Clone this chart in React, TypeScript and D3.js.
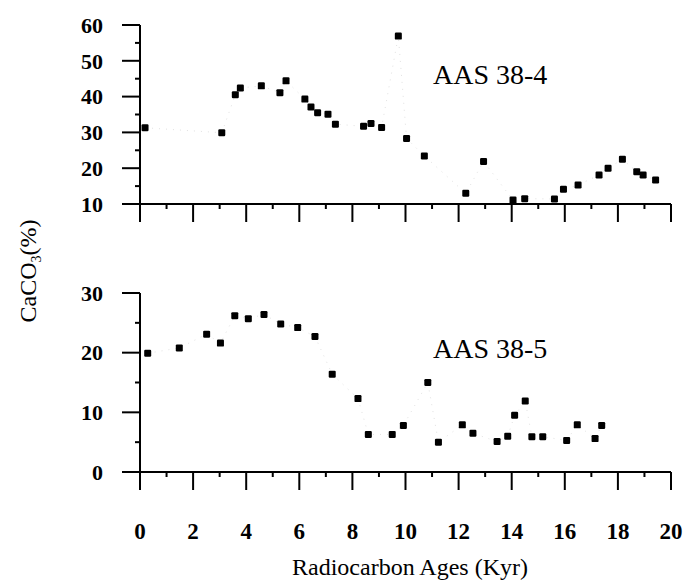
import React from "react";
import * as d3 from "d3";

// AAS 38-4 (upper panel)
const ages384 = [0.19, 3.08, 3.59, 3.78, 4.57, 5.27, 5.5, 6.21, 6.44, 6.69, 7.08, 7.36, 8.42, 8.7, 9.1, 9.73, 10.04, 10.71, 12.27, 12.94, 14.05, 14.49, 15.61, 15.95, 16.5, 17.29, 17.63, 18.17, 18.71, 18.95, 19.42];
const caco3_384 = [31.3, 29.9, 40.5, 42.4, 43.0, 41.1, 44.4, 39.3, 37.1, 35.5, 35.1, 32.3, 31.7, 32.5, 31.4, 56.9, 28.3, 23.4, 13.0, 21.9, 11.1, 11.5, 11.4, 14.1, 15.3, 18.1, 20.0, 22.5, 19.0, 18.1, 16.7];

// AAS 38-5 (lower panel)
const ages385 = [0.29, 1.48, 2.51, 3.03, 3.57, 4.08, 4.67, 5.3, 5.94, 6.59, 7.24, 8.21, 8.6, 9.5, 9.92, 10.84, 11.24, 12.14, 12.54, 13.45, 13.85, 14.11, 14.51, 14.76, 15.17, 16.07, 16.47, 17.14, 17.39];
const caco3_385 = [19.9, 20.8, 23.1, 21.6, 26.2, 25.7, 26.4, 24.8, 24.2, 22.7, 16.4, 12.3, 6.3, 6.3, 7.8, 15.0, 5.0, 7.9, 6.5, 5.1, 6.0, 9.5, 11.9, 5.9, 5.9, 5.3, 7.9, 5.6, 7.8];

const xTicks = [0, 2, 4, 6, 8, 10, 12, 14, 16, 18, 20];
const xMinor = [1, 3, 5, 7, 9, 11, 13, 15, 17, 19];
const yTicksTop = [10, 20, 30, 40, 50, 60];
const yMinorTop = [15, 25, 35, 45, 55];
const yTicksBot = [0, 10, 20, 30];
const yMinorBot = [5, 15, 25];

const panelLabels = ["AAS 38-4", "AAS 38-5"];
const xTitle = "Radiocarbon Ages (Kyr)";

const FONT = "Liberation Serif, DejaVu Serif, Noto Serif, Times, serif";

export default function App() {
  const x = d3.scaleLinear().domain([0, 20]).range([140, 671]);
  const yTop = d3.scaleLinear().domain([10, 60]).range([204, 25]);
  const yBot = d3.scaleLinear().domain([0, 30]).range([472, 293]);

  const MAJ = 18;
  const MIN = 5;
  const SW = 2;

  const panel = (
    ages: number[],
    vals: number[],
    y: d3.ScaleLinear<number, number>,
    yTicks: number[],
    yMinor: number[],
    label: string,
    labelY: number,
    showXLabels: boolean
  ) => {
    const yBase = y(y.domain()[0]);
    const yTopPx = y(y.domain()[1]);
    const pts: [number, number][] = ages.map((a, i) => [a, vals[i]]);
    const line = d3
      .line<[number, number]>()
      .x((d) => x(d[0]))
      .y((d) => y(d[1]));
    return (
      <g>
        <path d={line(pts) || ""} fill="none" stroke="#e2e2e2" strokeWidth={1} strokeDasharray="1 6" />
        <line x1={x(0)} x2={x(0)} y1={yTopPx} y2={yBase + MAJ} stroke="#000" strokeWidth={SW} />
        <line x1={x(0) - MAJ} x2={x(20)} y1={yBase} y2={yBase} stroke="#000" strokeWidth={SW} />
        {yTicks.map((t) => (
          <g key={"yt" + t}>
            <line x1={x(0) - MAJ} x2={x(0)} y1={y(t)} y2={y(t)} stroke="#000" strokeWidth={SW} />
            <text
              x={103}
              y={y(t)}
              dy="0.35em"
              textAnchor="end"
              style={{ fontFamily: FONT, fontWeight: "bold", fontSize: 22 }}
              fill="#000"
            >
              {t}
            </text>
          </g>
        ))}
        {yMinor.map((t) => (
          <line key={"ym" + t} x1={x(0) - MIN} x2={x(0)} y1={y(t)} y2={y(t)} stroke="#000" strokeWidth={SW} />
        ))}
        {xTicks.map((t) => (
          <g key={"xt" + t}>
            <line x1={x(t)} x2={x(t)} y1={yBase} y2={yBase + MAJ} stroke="#000" strokeWidth={SW} />
            {showXLabels && (
              <text
                x={x(t)}
                y={539}
                textAnchor="middle"
                style={{ fontFamily: FONT, fontWeight: "bold", fontSize: 23 }}
                fill="#000"
              >
                {t}
              </text>
            )}
          </g>
        ))}
        {xMinor.map((t) => (
          <line key={"xm" + t} x1={x(t)} x2={x(t)} y1={yBase} y2={yBase + MIN} stroke="#000" strokeWidth={SW} />
        ))}
        {pts.map((d, i) => (
          <rect
            key={"p" + i}
            x={x(d[0]) - 3.5}
            y={y(d[1]) - 3.5}
            width={7}
            height={7}
            rx={1.2}
            fill="#000"
          />
        ))}
        <text x={433} y={labelY} style={{ fontFamily: FONT, fontSize: 28 }} fill="#000">
          {label}
        </text>
      </g>
    );
  };

  return (
    <svg
      width={684}
      height={580}
      style={{ position: "absolute", left: 0, top: 0, background: "#fff" }}
    >
      <rect width={684} height={580} fill="#fff" />
      {panel(ages384, caco3_384, yTop, yTicksTop, yMinorTop, panelLabels[0], 84, false)}
      {panel(ages385, caco3_385, yBot, yTicksBot, yMinorBot, panelLabels[1], 358, true)}
      <text
        x={410}
        y={575}
        textAnchor="middle"
        style={{ fontFamily: FONT, fontSize: 24 }}
        fill="#000"
      >
        {xTitle}
      </text>
      <text
        transform="translate(36,271) rotate(-90)"
        textAnchor="middle"
        style={{ fontFamily: FONT, fontSize: 24 }}
        fill="#000"
      >
        CaCO<tspan style={{ fontSize: 14 }} dy={5}>3</tspan>
        <tspan dy={-5}>(%)</tspan>
      </text>
    </svg>
  );
}
